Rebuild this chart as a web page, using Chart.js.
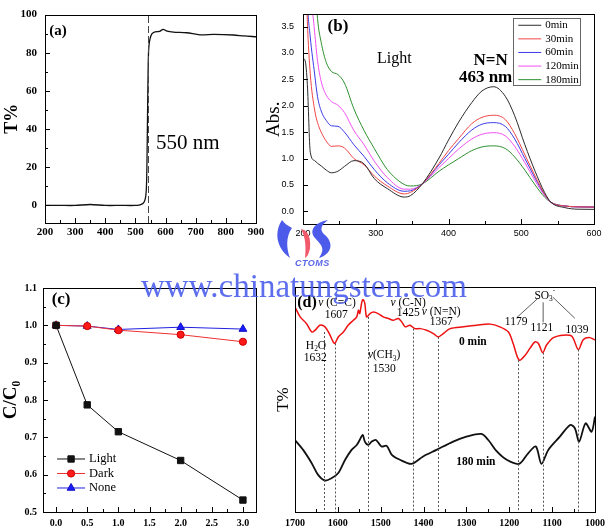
<!DOCTYPE html>
<html>
<head>
<meta charset="utf-8">
<script src="https://cdn.jsdelivr.net/npm/chart.js@4.4.1/dist/chart.umd.min.js"></script>
<style>
  html, body { margin: 0; padding: 0; background: #fff; }
  body { width: 610px; height: 530px; position: relative; overflow: hidden; }
  .panel { position: absolute; }
  #wm { position: absolute; left: 141px; top: 270px; font: 33px "Times New Roman", "Liberation Serif", serif; line-height: 1; color: rgba(70, 90, 235, 0.88); white-space: nowrap; z-index: 5; }
  #logo { position: absolute; left: 276px; top: 219px; z-index: 5; }
  #ctoms { position: absolute; left: 295px; top: 258px; font: italic bold 9px Arial, "Liberation Sans", sans-serif; color: #5a66e8; letter-spacing: 0.5px; z-index: 5; }
</style>
</head>
<body>
<div class="panel" style="left:0;top:0;width:300px;height:260px"><canvas id="chartA"></canvas></div>
<div class="panel" style="left:260px;top:0;width:350px;height:260px"><canvas id="chartB"></canvas></div>
<div class="panel" style="left:0;top:260px;width:290px;height:270px"><canvas id="chartC"></canvas></div>
<div class="panel" style="left:265px;top:260px;width:350px;height:270px"><canvas id="chartD"></canvas></div>
<svg id="logo" width="58" height="40" viewBox="0 0 58 40">
  <path fill="#4d5bea" d="M6 1 C-2 13 0 29 14 39 C10 29 10 17 16 9 C12 7 8 4 6 1Z"/>
  <path fill="#f05a6a" d="M25 10 C32 11 35 19 34 29 C33 35 31 38 29 39 C30 29 30 19 25 10Z"/>
  <path fill="#4d5bea" d="M52 1 C40 3 32 11 39 19 C45 26 50 29 43 39 C56 35 58 24 49 16 C43 11 45 6 52 1Z"/>
</svg>
<div id="ctoms">CTOMS</div>
<div id="wm">www.chinatungsten.com</div>
<script>
// (a) transmittance of the filter
const A_WAVELENGTH = [200, 250, 300, 350, 400, 450, 500, 515, 525, 532, 536, 538, 540, 542, 544, 548, 555, 565, 580, 592, 605, 626, 670, 714, 760, 825, 860, 900];
const A_TRANSMIT = [0, 0, 0, 0.5, 0, 0, 0, 0.3, 1, 3, 8, 20, 45, 70, 82, 87, 90, 91, 91.2, 92.3, 91.3, 90.8, 90.5, 89.4, 89.6, 89.3, 88.8, 88.4];
const A_XTICKS = [200, 300, 400, 500, 600, 700, 800, 900];
const A_YTICKS = [0, 20, 40, 60, 80, 100];
const A_CUTOFF = 541;

// (b) UV-vis absorbance under light
const B_WAVELENGTH = [200, 203, 206, 210, 216, 220, 225, 232, 239, 248, 257, 270, 284, 298, 316, 339, 348, 364, 387, 400, 414, 432, 446, 462, 478, 491, 505, 519, 532, 541, 560, 578, 600];
const B_0MIN = [2.9, 2.85, 2.4, 1.12, 0.96, 0.91, 0.86, 0.78, 0.73, 0.76, 0.85, 0.96, 0.9, 0.62, 0.43, 0.27, 0.3, 0.52, 1.01, 1.35, 1.69, 2.06, 2.28, 2.36, 2.18, 1.81, 1.26, 0.76, 0.36, 0.17, 0.07, 0.04, 0.037];
const B_30MIN = [6, 5, 3.6, 2.6, 1.92, 1.68, 1.5, 1.33, 1.23, 1.24, 1.2, 1.0, 0.88, 0.67, 0.48, 0.33, 0.36, 0.52, 0.91, 1.15, 1.38, 1.66, 1.78, 1.82, 1.74, 1.47, 1.07, 0.67, 0.33, 0.17, 0.1, 0.085, 0.08];
const B_60MIN = [7, 5.5, 4.0, 3.3, 2.6, 2.17, 1.9, 1.72, 1.62, 1.61, 1.5, 1.26, 1.04, 0.79, 0.54, 0.38, 0.39, 0.52, 0.88, 1.08, 1.3, 1.54, 1.65, 1.68, 1.61, 1.37, 1.0, 0.63, 0.32, 0.17, 0.1, 0.085, 0.08];
const B_120MIN = [8, 7, 6, 4.4, 3.4, 2.85, 2.46, 2.2, 2.08, 2.01, 1.87, 1.53, 1.26, 0.95, 0.64, 0.42, 0.42, 0.52, 0.83, 1.0, 1.18, 1.37, 1.46, 1.49, 1.43, 1.23, 0.92, 0.58, 0.3, 0.17, 0.1, 0.085, 0.08];
const B_180MIN = [9, 8, 7, 6, 4.5, 3.65, 3.2, 2.82, 2.65, 2.59, 2.43, 1.94, 1.53, 1.19, 0.79, 0.51, 0.48, 0.52, 0.76, 0.88, 1.0, 1.15, 1.22, 1.24, 1.19, 1.03, 0.78, 0.5, 0.27, 0.17, 0.1, 0.085, 0.08];
const B_LABELS = ['0min', '30min', '60min', '120min', '180min'];
const B_XTICKS = [200, 300, 400, 500, 600];
const B_YTICKS = [0, 0.5, 1, 1.5, 2, 2.5, 3, 3.5];

// (c) degradation C/C0 vs time
const C_TIME = [0, 0.5, 1, 2, 3];
const C_LIGHT = [1.0, 0.787, 0.715, 0.638, 0.532];
const C_DARK = [1.0, 0.998, 0.987, 0.975, 0.956];
const C_NONE = [1.0, 0.998, 0.989, 0.995, 0.99];
const C_XTICKS = [0, 0.5, 1, 1.5, 2, 2.5, 3];
const C_YTICKS = [0.5, 0.6, 0.7, 0.8, 0.9, 1.0, 1.1];

// (d) FTIR spectra
const D_WN_0 = [1700, 1688, 1673, 1661, 1653, 1642, 1630, 1620, 1611, 1607, 1599, 1587, 1576, 1564, 1556, 1552, 1549, 1544, 1541, 1537, 1533, 1525, 1517, 1506, 1494, 1482, 1471, 1459, 1451, 1443, 1432, 1420, 1408, 1393, 1377, 1366, 1354, 1338, 1307, 1276, 1245, 1222, 1202, 1191, 1177, 1163, 1152, 1140, 1132, 1122, 1113, 1097, 1074, 1054, 1039, 1027, 1012, 1000];
const D_T_0 = [91.1, 86.7, 83.7, 80, 80.8, 83, 82.3, 79.3, 75.6, 74.9, 77.8, 80, 83, 85.2, 86.7, 89.7, 88.2, 93.4, 94.4, 92.6, 86.7, 88.2, 88.9, 88.2, 86.7, 86, 85.2, 86, 84.5, 82.3, 83, 81.5, 81.5, 80.8, 79.3, 77.8, 79.3, 81.5, 82.3, 83, 83.5, 82.3, 80, 74.9, 67.5, 69.7, 72.7, 75.6, 74.9, 70.8, 74.2, 77.5, 78.6, 78.1, 72.2, 76.7, 77.5, 76.4];
const D_WN_180 = [1700, 1681, 1661, 1646, 1630, 1614, 1599, 1583, 1568, 1556, 1549, 1542, 1537, 1529, 1521, 1511, 1498, 1486, 1474, 1455, 1428, 1401, 1370, 1331, 1300, 1265, 1249, 1229, 1206, 1177, 1156, 1138, 1125, 1109, 1082, 1058, 1047, 1037, 1022, 1008, 1000];
const D_T_180 = [32, 27.6, 21.7, 16.5, 14, 15.1, 17.3, 23.2, 27.6, 29.8, 32, 34.3, 31.3, 29.8, 31.3, 32, 29.1, 29.4, 25.4, 23.2, 21.4, 24.7, 27.6, 31.3, 33.5, 34.7, 32, 26.9, 23.2, 21.4, 26.1, 29.1, 21.4, 27.6, 33.5, 38.7, 37.2, 31.3, 39.4, 35.7, 42.4];
const D_PEAKS = [1632, 1607, 1530, 1425, 1367, 1179, 1121, 1039];
const D_PEAK_TOP = [80, 74.9, 86.7, 81.5, 77.8, 67.5, 70.8, 72.2];
const D_XTICKS = [1700, 1600, 1500, 1400, 1300, 1200, 1100, 1000];

const SERIF = '"Times New Roman", "Liberation Serif", serif';
const SANS = 'Arial, "Liberation Sans", sans-serif';

Chart.defaults.font.family = SERIF;
Chart.defaults.color = '#000';

function points(xs, ys) {
  return xs.map((x, i) => ({ x: x, y: ys[i] }));
}

function axis(o) {
  return {
    type: 'linear',
    min: o.min,
    max: o.max,
    reverse: !!o.reverse,
    grid: { display: false, drawTicks: false },
    border: { display: false },
    ticks: {
      display: o.ticks.length > 0,
      padding: o.pad || 4,
      autoSkip: false,
      maxRotation: 0,
      color: '#000',
      font: o.font,
      callback: o.format || ((v) => v),
    },
    title: o.title
      ? { display: true, text: o.title, color: '#000', font: o.titleFont, padding: { top: o.titlePad, bottom: 0 } }
      : { display: false },
    afterBuildTicks: (s) => {
      s.ticks = o.ticks.map((v) => ({ value: v }));
    },
    afterFit: (s) => {
      if (o.width !== undefined) s.width = o.width;
      if (o.height !== undefined) s.height = o.height;
    },
  };
}

function drawText(ctx, item, px, py) {
  const size = item.size || 12;
  const weight = item.bold ? 'bold' : 'normal';
  const segs = typeof item.text === 'string' ? [{ t: item.text }] : item.text;
  const parts = segs.map((s) => {
    const fs = s.sub || s.sup ? size * 0.65 : size;
    const font = (s.italic ? 'italic ' : '') + weight + ' ' + fs + 'px ' + SERIF;
    ctx.font = font;
    return { t: s.t, font: font, w: ctx.measureText(s.t).width, dy: s.sub ? size * 0.3 : s.sup ? -size * 0.35 : 0 };
  });
  const total = parts.reduce((a, p) => a + p.w, 0);
  let cx = item.align === 'left' ? px : px - total / 2;
  ctx.textAlign = 'left';
  ctx.textBaseline = 'middle';
  ctx.fillStyle = item.color || '#000';
  parts.forEach((p) => {
    ctx.font = p.font;
    ctx.fillText(p.t, cx, py + p.dy);
    cx += p.w;
  });
}

// frame around the plot area with inward tick marks
function frame(cfg) {
  return {
    id: 'frame',
    afterDraw(chart) {
      const { ctx, chartArea: a, scales } = chart;
      ctx.save();
      ctx.strokeStyle = '#000';
      ctx.lineWidth = 1;
      ctx.strokeRect(Math.round(a.left) + 0.5, Math.round(a.top) + 0.5, Math.round(a.right - a.left), Math.round(a.bottom - a.top));
      ctx.beginPath();
      const marks = (scale, minor) => {
        const vals = scale.ticks.map((t) => t.value);
        const out = vals.map((v) => ({ v: v, len: 5 }));
        if (minor) {
          for (let i = 0; i + 1 < vals.length; i++) out.push({ v: (vals[i] + vals[i + 1]) / 2, len: 3 });
        }
        return out;
      };
      if (cfg.x) {
        marks(scales.x, cfg.minorX).forEach((m) => {
          const px = Math.round(scales.x.getPixelForValue(m.v)) + 0.5;
          ctx.moveTo(px, a.bottom);
          ctx.lineTo(px, a.bottom - m.len);
        });
      }
      if (cfg.y) {
        marks(scales.y, cfg.minorY).forEach((m) => {
          const py = Math.round(scales.y.getPixelForValue(m.v)) + 0.5;
          ctx.moveTo(a.left, py);
          ctx.lineTo(a.left + m.len, py);
        });
      }
      ctx.stroke();
      ctx.restore();
    },
  };
}

// texts, guide lines and legends placed in data units
function notes(spec) {
  return {
    id: 'notes',
    afterDatasetsDraw(chart) {
      const { ctx, scales } = chart;
      const X = (v) => scales.x.getPixelForValue(v);
      const Y = (v) => scales.y.getPixelForValue(v);
      ctx.save();
      (spec.vlines || []).forEach((l) => {
        ctx.beginPath();
        ctx.setLineDash(l.dash);
        ctx.strokeStyle = l.color;
        ctx.lineWidth = 1;
        const px = Math.round(X(l.x)) + 0.5;
        ctx.moveTo(px, Y(l.from));
        ctx.lineTo(px, Y(l.to));
        ctx.stroke();
      });
      ctx.setLineDash([]);
      (spec.lines || []).forEach((l) => {
        ctx.beginPath();
        ctx.strokeStyle = '#333';
        ctx.lineWidth = 0.8;
        ctx.moveTo(X(l[0]), Y(l[1]));
        ctx.lineTo(X(l[2]), Y(l[3]));
        ctx.stroke();
      });
      (spec.texts || []).forEach((t) => drawText(ctx, t, X(t.x), Y(t.y)));
      const lg = spec.legend;
      if (lg) {
        const x0 = X(lg.x);
        const y0 = Y(lg.y);
        const sets = chart.data.datasets;
        if (lg.box) {
          ctx.fillStyle = '#fff';
          ctx.fillRect(x0, y0, lg.w, lg.h);
          ctx.strokeStyle = '#666';
          ctx.lineWidth = 1;
          ctx.strokeRect(Math.round(x0) + 0.5, Math.round(y0) + 0.5, lg.w, lg.h);
        }
        sets.forEach((ds, i) => {
          const ry = y0 + lg.first + i * lg.step;
          const lx = x0 + lg.pad;
          ctx.beginPath();
          ctx.strokeStyle = ds.borderColor;
          ctx.lineWidth = ds.borderWidth || 1;
          ctx.moveTo(lx, ry);
          ctx.lineTo(lx + lg.len, ry);
          ctx.stroke();
          if (lg.markers) {
            ctx.fillStyle = ds.pointBackgroundColor;
            ctx.strokeStyle = ds.pointBorderColor;
            Chart.helpers.drawPoint(ctx, { pointStyle: ds.pointStyle, radius: ds.pointRadius, rotation: 0, borderWidth: 1 }, lx + lg.len / 2, ry);
          }
          drawText(ctx, { text: ds.label, size: lg.size, align: 'left' }, lx + lg.len + 4, ry);
        });
      }
      ctx.restore();
    },
  };
}

function createChart(id, datasets, o) {
  const ctx = document.getElementById(id).getContext('2d');
  return new Chart(ctx, {
    type: 'line',
    data: { datasets: datasets },
    options: {
      responsive: true,
      maintainAspectRatio: false,
      animation: false,
      parsing: false,
      layout: { padding: o.padding },
      scales: { x: o.x, y: o.y },
      elements: { point: { radius: 0 } },
      plugins: { legend: { display: false }, tooltip: { enabled: false } },
    },
    plugins: o.plugins,
  });
}

const TICK_BOLD = (size) => ({ family: SERIF, size: size, weight: 'bold' });

// panel (a)
createChart('chartA', [
  { label: 'T', data: points(A_WAVELENGTH, A_TRANSMIT), borderColor: '#111', borderWidth: 1.3, tension: 0.3 },
], {
  padding: { left: 0, top: 10, right: 44, bottom: 7 },
  x: axis({ min: 200, max: 900, ticks: A_XTICKS, pad: 3, height: 30, font: TICK_BOLD(11) }),
  y: axis({ min: -9.2, max: 100, ticks: A_YTICKS, pad: 8, width: 45, font: TICK_BOLD(11),
    title: 'T%', titleFont: { family: SERIF, size: 18, weight: 'bold', lineHeight: 1 }, titlePad: 3 }),
  plugins: [
    frame({ x: true, y: true, minorX: true, minorY: true }),
    notes({
      vlines: [{ x: A_CUTOFF, from: -9.2, to: 100, dash: [7, 3], color: '#444' }],
      texts: [
        { x: 243, y: 91.3, text: '(a)', size: 15, bold: true },
        { x: 674, y: 32.3, text: '550 nm', size: 21 },
      ],
    }),
  ],
});

// panel (b)
const B_SERIES = [B_0MIN, B_30MIN, B_60MIN, B_120MIN, B_180MIN];
const B_COLORS = ['#2b2b2b', '#f04545', '#3a3ae6', '#f050f0', '#2f8f2f'];
createChart('chartB', B_SERIES.map((vals, i) => ({
  label: B_LABELS[i],
  data: points(B_WAVELENGTH, vals),
  borderColor: B_COLORS[i],
  borderWidth: 1,
  cubicInterpolationMode: 'monotone',
})), {
  padding: { left: 0, top: 10, right: 16, bottom: 6 },
  x: axis({ min: 200, max: 600, ticks: B_XTICKS, pad: 4, height: 30, font: { family: SANS, size: 9 } }),
  y: axis({ min: -0.24, max: 3.73, ticks: B_YTICKS, pad: 9, width: 43, font: { family: SANS, size: 9 },
    format: (v) => v.toFixed(1),
    title: 'Abs.', titleFont: { family: SERIF, size: 19, lineHeight: 1 }, titlePad: 4.5 }),
  plugins: [
    frame({ x: true, y: true, minorX: true, minorY: false }),
    notes({
      texts: [
        { x: 248, y: 3.49, text: '(b)', size: 17, bold: true },
        { x: 325.5, y: 2.89, text: 'Light', size: 16 },
        { x: 458, y: 2.86, text: 'N=N', size: 17, bold: true },
        { x: 451, y: 2.54, text: '463 nm', size: 17, bold: true },
      ],
      legend: { x: 489, y: 3.67, w: 67, h: 67, box: true, first: 7.7, step: 13.6, pad: 5, len: 23, size: 11 },
    }),
  ],
});

// panel (c)
createChart('chartC', [
  { label: 'Light', data: points(C_TIME, C_LIGHT), borderColor: '#111', borderWidth: 1, pointStyle: 'rect', pointRadius: 4.5, pointBackgroundColor: '#111', pointBorderColor: '#111' },
  { label: 'Dark', data: points(C_TIME, C_DARK), borderColor: '#f03030', borderWidth: 1, pointStyle: 'circle', pointRadius: 3.6, pointBackgroundColor: '#ff1a1a', pointBorderColor: '#c00' },
  { label: 'None', data: points(C_TIME, C_NONE), borderColor: '#2020e0', borderWidth: 1, pointStyle: 'triangle', pointRadius: 4.5, pointBackgroundColor: '#1a1aff', pointBorderColor: '#1010c0' },
], {
  padding: { left: 0, top: 28, right: 34, bottom: 0 },
  x: axis({ min: -0.21, max: 3.21, ticks: C_XTICKS, pad: 5, height: 18, font: TICK_BOLD(10), format: (v) => v.toFixed(1) }),
  y: axis({ min: 0.5, max: 1.1, ticks: C_YTICKS, pad: 6, width: 43, font: TICK_BOLD(10), format: (v) => v.toFixed(1),
    title: 'C/C\u2080', titleFont: { family: SERIF, size: 19, weight: 'bold', lineHeight: 1 }, titlePad: 2 }),
  plugins: [
    frame({ x: true, y: true, minorX: true, minorY: true }),
    notes({
      texts: [{ x: 0.08, y: 1.068, text: '(c)', size: 17, bold: true }],
      legend: { x: 0.016, y: 0.642, box: false, markers: true, first: 0, step: 14.5, pad: 0, len: 28, size: 12.5 },
    }),
  ],
});

// panel (d)
const V = { t: 'v', italic: true };
createChart('chartD', [
  { label: '0 min', data: points(D_WN_0, D_T_0), borderColor: '#ee1111', borderWidth: 1.5, tension: 0.3 },
  { label: '180 min', data: points(D_WN_180, D_T_180), borderColor: '#111', borderWidth: 1.8, tension: 0.3 },
], {
  padding: { left: 0, top: 27, right: 20, bottom: 0 },
  x: axis({ min: 1000, max: 1700, reverse: true, ticks: D_XTICKS, pad: 5, height: 18, font: TICK_BOLD(10) }),
  y: axis({ min: 0, max: 100, ticks: [], width: 30,
    title: 'T%', titleFont: { family: SERIF, size: 17, lineHeight: 1 }, titlePad: 10 }),
  plugins: [
    frame({ x: true, y: false, minorX: true }),
    notes({
      vlines: D_PEAKS.map((p, i) => ({ x: p, from: D_PEAK_TOP[i], to: 0, dash: [2, 2], color: '#555' })),
      lines: [[1133, 95, 1182, 86.5], [1121, 93.2, 1121, 84.3], [1098, 95.4, 1047, 86.1]],
      texts: [
        { x: 1672, y: 92.8, text: '(d)', size: 16, bold: true },
        { x: 1602, y: 92.8, text: [V, { t: ' (C=C)' }], size: 11.5 },
        { x: 1604, y: 87.4, text: '1607', size: 11.5 },
        { x: 1651, y: 74, text: [{ t: 'H' }, { t: '2', sub: true }, { t: 'O' }], size: 11.5 },
        { x: 1653, y: 68.4, text: '1632', size: 11.5 },
        { x: 1492, y: 69.7, text: [V, { t: '(CH' }, { t: '3', sub: true }, { t: ')' }], size: 11.5 },
        { x: 1492, y: 63.5, text: '1530', size: 11.5 },
        { x: 1436, y: 92.8, text: [V, { t: ' (C-N)' }], size: 11.5 },
        { x: 1436, y: 88.3, text: '1425', size: 11.5 },
        { x: 1359, y: 88.8, text: [V, { t: ' (N=N)' }], size: 11.5 },
        { x: 1359, y: 84.3, text: '1367', size: 11.5 },
        { x: 1184, y: 84.3, text: '1179', size: 11.5 },
        { x: 1124, y: 81.7, text: '1121', size: 11.5 },
        { x: 1042, y: 80.8, text: '1039', size: 11.5 },
        { x: 1117, y: 96.2, text: [{ t: 'SO' }, { t: '3', sub: true }, { t: '-', sup: true }], size: 11.5 },
        { x: 1285, y: 75.5, text: '0 min', size: 11.5, bold: true },
        { x: 1278, y: 22.2, text: '180 min', size: 11.5, bold: true },
      ],
    }),
  ],
});
</script>
</body>
</html>
